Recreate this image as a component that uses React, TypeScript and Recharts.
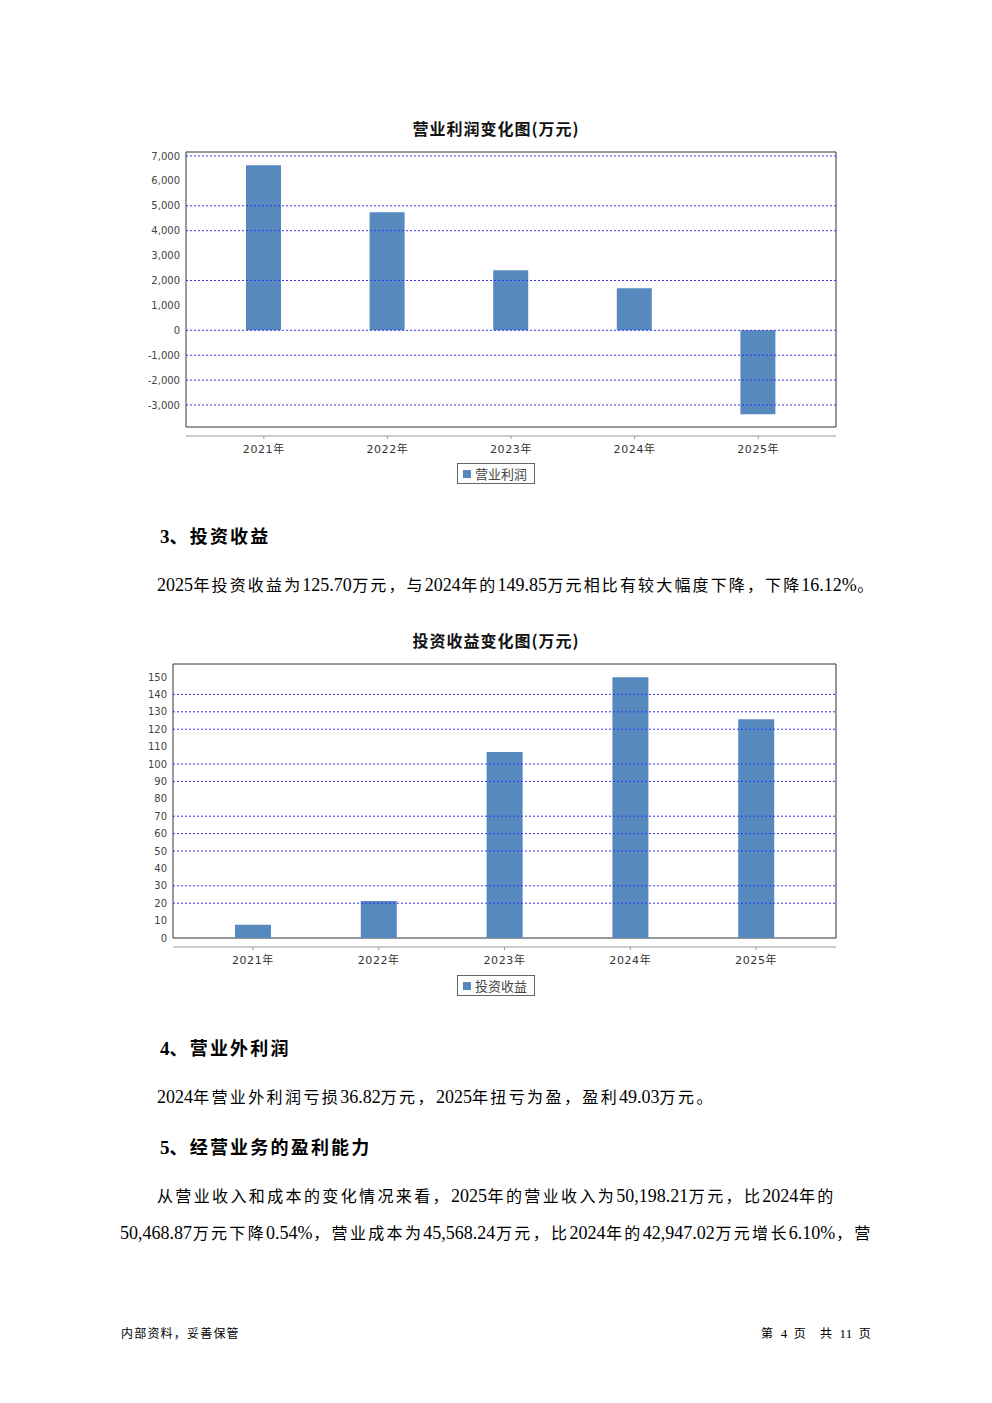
import React from 'react';
import { BarChart, Bar, XAxis, YAxis, ReferenceLine, ReferenceArea, Legend } from 'recharts';

// 年份
const years = ['2021年', '2022年', '2023年', '2024年', '2025年'];

// 营业利润(万元)
const operatingProfit = [6630, 4740, 2410, 1690, -3370];
const profitTicks = [-3000, -2000, -1000, 0, 1000, 2000, 3000, 4000, 5000, 6000, 7000];
const profitGridLines = [7000, 5000, 4000, 2000, 0, -1000, -2000, -3000];

// 投资收益(万元)
const investmentIncome = [7.6, 21.3, 106.9, 149.85, 125.7];
const incomeTicks = [0, 10, 20, 30, 40, 50, 60, 70, 80, 90, 100, 110, 120, 130, 140, 150];
const incomeGridLines = [140, 130, 120, 100, 90, 70, 60, 50, 30, 20];

const BAR_COLOR = '#5689be';
const SERIF = '"Liberation Serif", serif';
const CJK = '"Noto Sans CJK SC", sans-serif';
const CHART_FONT = '"DejaVu Sans", "Noto Sans CJK SC", sans-serif';

interface ChangeChartProps {
    title: string;
    top: number;
    seriesName: string;
    values: number[];
    ticks: number[];
    gridValues: number[];
    domain: [number, number];
    boxBottom: number;
    yAxisWidth: number;
    marginBottom: number;
    padding: number;
    barSize: number;
    formatTick: (v: number) => string;
}

function ChangeChart(props: ChangeChartProps) {
    const data = years.map((year, i) => ({ year, value: props.values[i] }));

    const renderLegend = () => (
        <div style={{ display: 'flex', justifyContent: 'center', height: 22 }}>
            <div
                style={{
                    border: '1px solid #666',
                    height: 21,
                    padding: '0 3px',
                    display: 'flex',
                    alignItems: 'center',
                    fontFamily: CHART_FONT,
                    fontSize: 13,
                    color: '#444',
                    boxSizing: 'border-box',
                    width: 78,
                }}
            >
                <span style={{ width: 8, height: 8, background: BAR_COLOR, marginRight: 4, marginLeft: 2 }} />
                {props.seriesName}
            </div>
        </div>
    );

    return (
        <>
            <div
                style={{
                    position: 'absolute',
                    left: 145,
                    width: 702,
                    top: props.top - 22,
                    textAlign: 'center',
                    fontFamily: CJK,
                    fontWeight: 700,
                    fontSize: 16,
                    lineHeight: '20px',
                    letterSpacing: 1,
                    color: '#111',
                }}
            >
                {props.title}
            </div>
            <div style={{ position: 'absolute', left: 145, top: props.top }}>
                <BarChart
                    width={702}
                    height={350}
                    data={data}
                    margin={{ top: 12, right: 11, left: 0, bottom: props.marginBottom }}
                >
                    <XAxis
                        dataKey="year"
                        height={24}
                        padding={{ left: props.padding, right: props.padding }}
                        axisLine={{ stroke: '#999' }}
                        tickLine={{ stroke: '#999' }}
                        tickSize={3}
                        tickMargin={6}
                        tick={{ fontSize: 11, fill: '#333', fontFamily: CHART_FONT, letterSpacing: 0.6 }}
                    />
                    {/* hidden axis without padding, so the frame spans the whole plot */}
                    <XAxis xAxisId="frame" dataKey="year" hide />
                    <YAxis
                        width={props.yAxisWidth}
                        domain={props.domain}
                        ticks={props.ticks}
                        allowDataOverflow
                        axisLine={false}
                        tickLine={false}
                        tickSize={6}
                        tickMargin={0}
                        tickFormatter={props.formatTick}
                        tick={{ fontSize: 10, fill: '#444', fontFamily: CHART_FONT }}
                    />
                    {props.gridValues.map(v => (
                        <ReferenceLine key={v} y={v} stroke="#3535f0" strokeDasharray="2 2" />
                    ))}
                    <ReferenceArea
                        xAxisId="frame"
                        y1={props.boxBottom}
                        y2={props.domain[1]}
                        fill="none"
                        stroke="#333"
                        strokeWidth={1}
                        ifOverflow="visible"
                    />
                    <Bar
                        dataKey="value"
                        name={props.seriesName}
                        fill={BAR_COLOR}
                        barSize={props.barSize}
                        isAnimationActive={false}
                    />
                    <Legend
                        verticalAlign="bottom"
                        content={renderLegend}
                        wrapperStyle={{ top: 323, left: 0, width: 702 }}
                    />
                </BarChart>
            </div>
        </>
    );
}

// digits in Times-like serif, Chinese in a sans with wider pitch
function Mixed({ text, ascii, cjk, spacing }: { text: string; ascii: number; cjk: number; spacing: number }) {
    const runs = text.match(/[\x00-\x7F]+|[^\x00-\x7F]+/g) || [];
    return (
        <>
            {runs.map((run, i) =>
                /^[\x00-\x7F]/.test(run) ? (
                    <span key={i} style={{ fontFamily: SERIF, fontSize: ascii }}>{run}</span>
                ) : (
                    <span key={i} style={{ fontFamily: CJK, fontSize: cjk, letterSpacing: spacing }}>{run}</span>
                )
            )}
        </>
    );
}

function TextLine({ top, left, width, text, size = 18, cjk = 16, spacing = 1.7, bold = false, justify = false }: any) {
    return (
        <div
            style={{
                position: 'absolute',
                top,
                left,
                width,
                whiteSpace: 'pre',
                fontWeight: bold ? 700 : 400,
                lineHeight: '24px',
                textAlign: justify ? 'justify' : 'left',
                textAlignLast: justify ? 'justify' : 'auto',
                color: '#000',
            }}
        >
            <Mixed text={text} ascii={size} cjk={cjk} spacing={spacing} />
        </div>
    );
}

export default function App() {
    return (
        <div
            style={{
                position: 'absolute',
                left: 0,
                top: 0,
                width: 992,
                height: 1403,
                background: '#fff',
                overflow: 'hidden',
            }}
        >
            <ChangeChart
                title="营业利润变化图(万元)"
                top={140}
                seriesName="营业利润"
                values={operatingProfit}
                ticks={profitTicks}
                gridValues={profitGridLines}
                domain={[-4245, 7160]}
                boxBottom={-3884}
                yAxisWidth={41}
                marginBottom={8}
                padding={16}
                barSize={35}
                formatTick={v => v.toLocaleString('en-US')}
            />

            <TextLine top={523} left={160} size={19} cjk={18} spacing={2.2} bold text="3、投资收益" />
            <TextLine
                top={572}
                left={157}
                width={718}
                justify
                text="2025年投资收益为125.70万元，与2024年的149.85万元相比有较大幅度下降，下降16.12%。"
            />

            <ChangeChart
                title="投资收益变化图(万元)"
                top={652}
                seriesName="投资收益"
                values={investmentIncome}
                ticks={incomeTicks}
                gridValues={incomeGridLines}
                domain={[-5.17, 157.47]}
                boxBottom={0}
                yAxisWidth={28}
                marginBottom={9}
                padding={17}
                barSize={36}
                formatTick={v => String(v)}
            />

            <TextLine top={1035} left={160} size={19} cjk={18} spacing={2.2} bold text="4、营业外利润" />
            <TextLine
                top={1084}
                left={157}
                spacing={2.4}
                text="2024年营业外利润亏损36.82万元，2025年扭亏为盈，盈利49.03万元。"
            />
            <TextLine top={1134} left={160} size={19} cjk={18} spacing={2.2} bold text="5、经营业务的盈利能力" />
            <TextLine
                top={1183}
                left={157}
                width={678}
                justify
                text="从营业收入和成本的变化情况来看，2025年的营业收入为50,198.21万元，比2024年的"
            />
            <TextLine
                top={1220}
                left={120}
                width={752}
                justify
                text="50,468.87万元下降0.54%，营业成本为45,568.24万元，比2024年的42,947.02万元增长6.10%，营"
            />

            <TextLine top={1321} left={121} size={13} cjk={12} spacing={1.2} text="内部资料，妥善保管" />
            <TextLine top={1321} left={761} size={13} cjk={12} spacing={1.2} text={'第  4  页    共  11  页'} />
        </div>
    );
}
